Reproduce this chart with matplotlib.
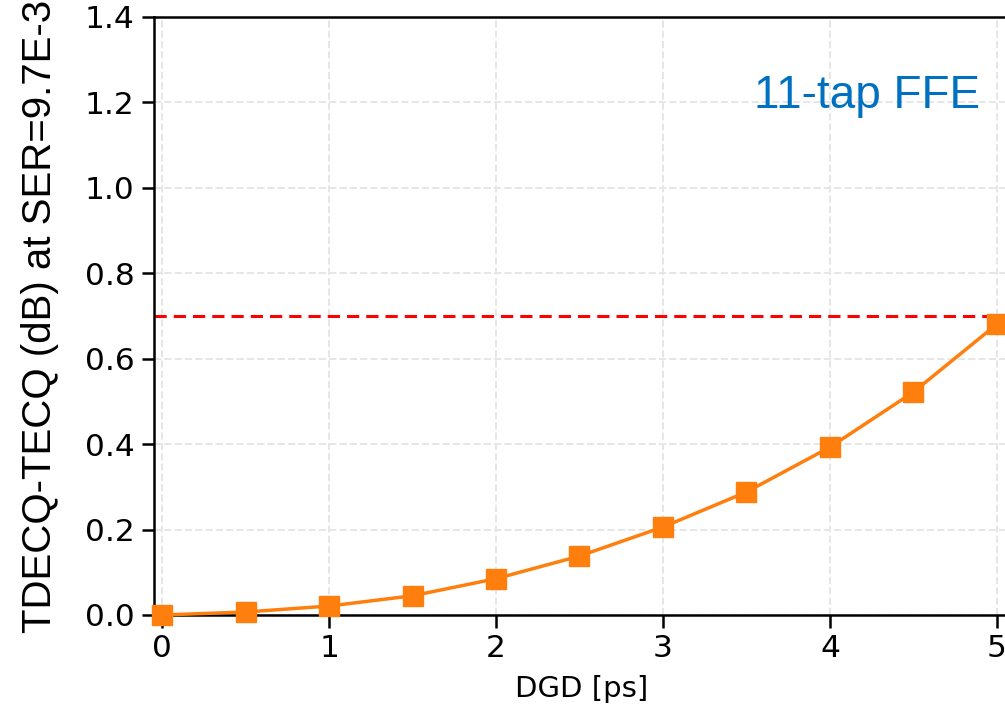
import matplotlib.pyplot as plt

# values
dgd = [0, 0.5, 1, 1.5, 2, 2.5, 3, 3.5, 4, 4.5, 5]
penalty = [0.0, 0.007, 0.021, 0.045, 0.085, 0.138, 0.206, 0.288, 0.393, 0.522, 0.681]
limit = 0.7
xticks = [0, 1, 2, 3, 4, 5]
yticks = [0.0, 0.2, 0.4, 0.6, 0.8, 1.0, 1.2, 1.4]

plt.rcParams['font.family'] = 'DejaVu Sans'

fig = plt.figure(figsize=(10.05, 7.15), dpi=100)
# right edge of the axes sits just past the figure edge, like the cropped original
ax = fig.add_axes([154 / 1005, 1 - 615 / 715, 856 / 1005, 598 / 715])

ax.plot(dgd, penalty, color='#ff7f0e', marker='s', markersize=15, linewidth=2.5,
        clip_on=False, zorder=3)
ax.axhline(limit, color='red', linestyle='--', linewidth=2.2, dashes=(4, 2.3), zorder=2)

ax.set_xlim(-0.048, 5.078)
ax.set_ylim(0, 1.4)
ax.set_xticks(xticks)
ax.set_yticks(yticks)
ax.set_yticklabels([f'{v:.1f}' for v in yticks])
ax.tick_params(labelsize=22.5, length=9, width=1.8, pad=5)
ax.grid(True, linestyle='--', color='#e6e6e6', linewidth=1.4)
ax.set_axisbelow(True)
for s in ax.spines.values():
    s.set_linewidth(1.8)
ax.spines['right'].set_visible(False)

ax.set_xlabel('DGD [ps]', fontsize=21, labelpad=8)
fig.text(40 / 1005, 1 - 316 / 715, 'TDECQ-TECQ (dB) at SER=9.7E-3', rotation=90,
         fontsize=29, family='Liberation Sans', ha='center', va='center')

fig.text(980 / 1005, 1 - 108 / 715, '11-tap FFE', color='#0070C0', fontsize=33,
         family='Liberation Sans', ha='right', va='baseline')

fig.savefig('out.png', dpi=100)
